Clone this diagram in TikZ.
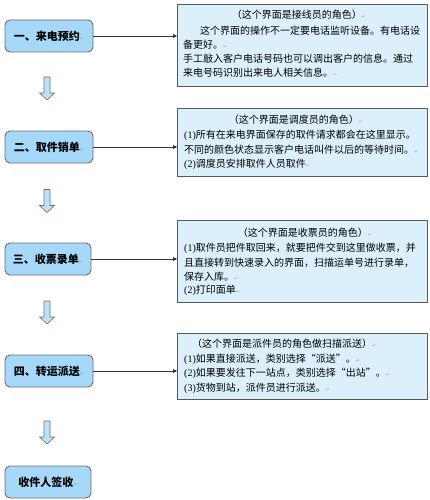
\documentclass[tikz,border=0pt]{standalone}
\usepackage{fontspec}
\setmainfont{Noto Sans CJK SC}
\newfontfamily\latf{Liberation Serif}
\newfontfamily\symf{DejaVu Sans}
\usetikzlibrary{arrows.meta}
\definecolor{leftfill}{RGB}{166,216,249}
\definecolor{rightfill}{RGB}{220,240,252}
\definecolor{arrfill}{RGB}{190,226,250}
\definecolor{edgegray}{RGB}{110,110,110}
\newcommand\retm{{\symf\color{gray!70}\fontsize{5}{5}\selectfont ↵}}
\newcommand\nm[1]{{\latf #1}}
\tikzset{
  stepbox/.style={draw=edgegray, line width=0.9pt, fill=leftfill, rounded corners=5pt,
    minimum height=32pt, inner sep=0pt, font=\fontsize{11}{11}\selectfont\bfseries},
  infobox/.style={draw=edgegray!80!black, line width=0.9pt, fill=rightfill, anchor=north west, inner sep=0pt},
  txt/.style={inner sep=0pt, anchor=west, text height=8pt, text depth=2pt, font=\fontsize{10}{10}\selectfont},
  ttl/.style={txt, anchor=center},
  conn/.style={draw=black!80, line width=0.6pt, -{Triangle[length=4pt,width=4pt]}},
  downarr/.pic={\draw[draw=edgegray, fill=arrfill, line width=0.6pt, line join=miter]
    (-3,-11.5)--(3,-11.5)--(3,4.5)--(7.5,4.5)--(0,11.5)--(-7.5,4.5)--(-3,4.5)--cycle;}
}
\begin{document}
\begin{tikzpicture}[x=1pt,y=-1pt]
\useasboundingbox[fill=white] (0,0) rectangle (430,500);

% left step boxes
\node[stepbox, minimum width=88pt] (s1) at (49,36) {一、来电预约\retm};
\node[stepbox, minimum width=88pt] (s2) at (49,147) {二、取件销单\retm};
\node[stepbox, minimum width=86pt] (s3) at (48,259) {三、收票录单\retm};
\node[stepbox, minimum width=88pt] (s4) at (49,371) {四、转运派送\retm};
\node[stepbox, minimum width=86pt] (s5) at (48,482) {收件人签收\retm};

% down arrows
\pic at (47,88.5) {downarr};
\pic at (47,201) {downarr};
\pic at (47,312.5) {downarr};
\pic at (47,432.5) {downarr};

% right info boxes
\node[infobox, minimum width=250pt, minimum height=82pt] (r1) at (177,4) {};
\node[infobox, minimum width=250pt, minimum height=68pt] (r2) at (177,108) {};
\node[infobox, minimum width=250pt, minimum height=82pt] (r3) at (177,220) {};
\node[infobox, minimum width=250pt, minimum height=66pt] (r4) at (177,333) {};

% connectors
\draw[conn] (s1.east) -- (r1.west |- s1.east);
\draw[conn] (s2.east) -- (r2.west |- s2.east);
\draw[conn] (s3.east) -- (r3.west |- s3.east);
\draw[conn] (s4.east) -- (r4.west |- s4.east);

% texts box 1
\node[ttl] (t1a) at (299,16) {（这个界面是接线员的角色）\retm};
\node[txt] (t1b) at (200,32) {这个界面的操作不一定要电话监听设备。有电话设};
\node[txt] (t1c) at (183,46) {备更好。\retm};
\node[txt] (t1d) at (183,60) {手工敲入客户电话号码也可以调出客户的信息。通过};
\node[txt] (t1e) at (183,74) {来电号码识别出来电人相关信息。\retm};

% texts box 2
\node[ttl] (t2a) at (296,120) {（这个界面是调度员的角色）\retm};
\node[txt] (t2b) at (184,135) {\nm{(1)}所有在来电界面保存的取件请求都会在这里显示。};
\node[txt] (t2c) at (184,150) {不同的颜色状态显示客户电话叫件以后的等待时间。\retm};
\node[txt] (t2d) at (184,164) {\nm{(2)}调度员安排取件人员取件\retm};

% texts box 3
\node[ttl] (t3a) at (305,233) {（这个界面是收票员的角色）\retm};
\node[txt] (t3b) at (184,248) {\nm{(1)}取件员把件取回来，就要把件交到这里做收票，并};
\node[txt] (t3c) at (184,263) {且直接转到快速录入的界面，扫描运单号进行录单，};
\node[txt] (t3d) at (184,277) {保存入库。\retm};
\node[txt] (t3e) at (184,290) {\nm{(2)}打印面单\retm};

% texts box 4
\node[txt] (t4a) at (192,344) {（这个界面是派件员的角色做扫描派送）\retm};
\node[txt] (t4b) at (184,359) {\nm{(1)}如果直接派送，类别选择“派送”。\retm};
\node[txt] (t4c) at (184,373) {\nm{(2)}如果要发往下一站点，类别选择“出站”。\retm};
\node[txt] (t4d) at (184,388) {\nm{(3)}货物到站，派件员进行派送。\retm};
\end{tikzpicture}
\end{document}
